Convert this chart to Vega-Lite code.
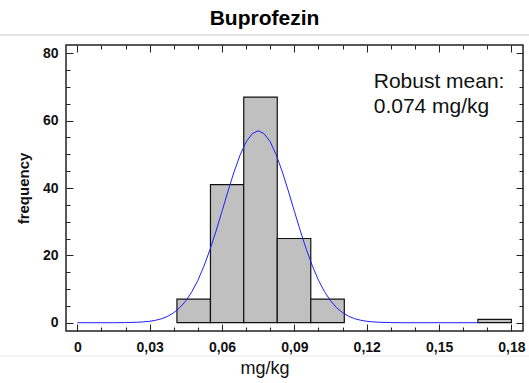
{
  "$schema": "https://vega.github.io/schema/vega-lite/v6.json",
  "width": 457,
  "height": 286,
  "autosize": {"type": "none"},
  "padding": {"left": 66, "top": 45, "right": 6, "bottom": 52},
  "config": {
    "view": {"stroke": "#222222", "strokeWidth": 1.5},
    "font": "Liberation Sans",
    "axis": {"grid": false, "domain": false, "tickColor": "#222222", "tickWidth": 1, "labelColor": "#111111", "titleColor": "#111111"}
  },
  "title": {"text": "Buprofezin", "font": "Liberation Sans", "fontSize": 21, "fontWeight": "bold", "color": "#000000", "anchor": "middle", "frame": "group", "dx": -30, "dy": 16, "baseline": "alphabetic", "offset": 4},
  "datasets": {
    "bars": [
      {"start": 0.0413, "end": 0.0552, "count": 7},
      {"start": 0.0552, "end": 0.0690, "count": 41},
      {"start": 0.0690, "end": 0.0829, "count": 67},
      {"start": 0.0829, "end": 0.0968, "count": 25},
      {"start": 0.0968, "end": 0.1107, "count": 7},
      {"start": 0.1661, "end": 0.1800, "count": 1}
    ],
    "curve": [
      {"x": 0, "f": 0}, {"x": 0.015, "f": 0}, {"x": 0.02, "f": 0.04}, {"x": 0.025, "f": 0.14},
      {"x": 0.0275, "f": 0.25}, {"x": 0.03, "f": 0.43}, {"x": 0.0325, "f": 0.73}, {"x": 0.035, "f": 1.2},
      {"x": 0.0375, "f": 1.92}, {"x": 0.04, "f": 2.97}, {"x": 0.0425, "f": 4.46}, {"x": 0.045, "f": 6.51},
      {"x": 0.0475, "f": 9.21}, {"x": 0.05, "f": 12.6}, {"x": 0.0525, "f": 16.8}, {"x": 0.055, "f": 21.7},
      {"x": 0.0575, "f": 27.2}, {"x": 0.06, "f": 33.1}, {"x": 0.0625, "f": 39.1}, {"x": 0.065, "f": 44.8},
      {"x": 0.0675, "f": 49.8}, {"x": 0.07, "f": 53.7}, {"x": 0.0725, "f": 56.1}, {"x": 0.075, "f": 57.0},
      {"x": 0.0775, "f": 56.1}, {"x": 0.08, "f": 53.7}, {"x": 0.0825, "f": 49.8}, {"x": 0.085, "f": 44.8},
      {"x": 0.0875, "f": 39.1}, {"x": 0.09, "f": 33.1}, {"x": 0.0925, "f": 27.2}, {"x": 0.095, "f": 21.7},
      {"x": 0.0975, "f": 16.8}, {"x": 0.1, "f": 12.6}, {"x": 0.1025, "f": 9.21}, {"x": 0.105, "f": 6.51},
      {"x": 0.1075, "f": 4.46}, {"x": 0.11, "f": 2.97}, {"x": 0.1125, "f": 1.92}, {"x": 0.115, "f": 1.2},
      {"x": 0.1175, "f": 0.73}, {"x": 0.12, "f": 0.43}, {"x": 0.1225, "f": 0.25}, {"x": 0.125, "f": 0.14},
      {"x": 0.13, "f": 0.04}, {"x": 0.135, "f": 0}, {"x": 0.1661, "f": 0}
    ],
    "note": [{"label": ["Robust mean:", "0.074 mg/kg"]}],
    "one": [{}]
  },
  "layer": [
    {
      "data": {"name": "bars"},
      "mark": {"type": "rect", "fill": "#c0c0c0", "stroke": "#111111", "strokeWidth": 1.2},
      "encoding": {
        "x": {"field": "start", "type": "quantitative", "scale": {"domain": [-0.0047, 0.1848], "nice": false, "zero": false},
          "axis": {"orient": "bottom", "values": [0, 0.03, 0.06, 0.09, 0.12, 0.15, 0.18], "ticks": false, "labelPadding": 9, "labelFontSize": 14, "labelFontWeight": "bold", "labelFlush": false, "labelOverlap": false,
            "labelExpr": "datum.value == 0 ? '0' : replace(format(datum.value, '.2f'), '.', ',')",
            "title": "mg/kg", "titleFontSize": 18, "titleFontWeight": "normal", "titleX": 198.5, "titleY": 42, "titleBaseline": "alphabetic"}},
        "x2": {"field": "end"},
        "y": {"field": "count", "type": "quantitative", "scale": {"domain": [-2.46, 82.46], "nice": false, "zero": false},
          "axis": {"orient": "left", "values": [0, 20, 40, 60, 80], "ticks": false, "labelPadding": 8, "labelFontSize": 14, "labelFontWeight": "bold",
            "title": "frequency", "titleFontSize": 15, "titleFontWeight": "bold", "titlePadding": 11}},
        "y2": {"datum": 0}
      }
    },
    {
      "data": {"name": "curve"},
      "mark": {"type": "line", "stroke": "#1f1fff", "strokeWidth": 1},
      "encoding": {
        "x": {"field": "x", "type": "quantitative", "scale": {"domain": [-0.0047, 0.1848], "nice": false, "zero": false},
          "axis": {"orient": "bottom", "values": [0, 0.03, 0.06, 0.09, 0.12, 0.15, 0.18], "labels": false, "tickSize": -7, "title": null}},
        "y": {"field": "f", "type": "quantitative", "scale": {"domain": [-2.46, 82.46], "nice": false, "zero": false},
          "axis": {"orient": "left", "values": [0, 20, 40, 60, 80], "labels": false, "tickSize": -7, "title": null}}
      }
    },
    {
      "data": {"name": "note"},
      "mark": {"type": "text", "align": "left", "baseline": "alphabetic", "fontSize": 21, "lineHeight": 25, "font": "Liberation Sans", "color": "#111111"},
      "encoding": {
        "text": {"field": "label"},
        "x": {"datum": 0.1229, "type": "quantitative", "scale": {"domain": [-0.0047, 0.1848], "nice": false, "zero": false},
          "axis": {"orient": "bottom", "values": [0.01, 0.02, 0.04, 0.05, 0.07, 0.08, 0.1, 0.11, 0.13, 0.14, 0.16, 0.17], "labels": false, "tickSize": -4, "title": null}},
        "y": {"datum": 69.6, "type": "quantitative", "scale": {"domain": [-2.46, 82.46], "nice": false, "zero": false},
          "axis": {"orient": "left", "values": [5, 10, 15, 25, 30, 35, 45, 50, 55, 65, 70, 75], "labels": false, "tickSize": -4, "title": null}}
      }
    },
    {
      "data": {"name": "one"},
      "mark": {"type": "rule", "stroke": "#c8c8c8", "strokeWidth": 1, "clip": false},
      "encoding": {
        "x": {"datum": -0.0321, "type": "quantitative", "scale": {"domain": [-0.0047, 0.1848], "nice": false, "zero": false},
          "axis": {"orient": "top", "values": [0, 0.03, 0.06, 0.09, 0.12, 0.15, 0.18], "labels": false, "tickSize": -7, "title": null}},
        "x2": {"datum": 0.1875},
        "y": {"datum": 85.43, "type": "quantitative", "scale": {"domain": [-2.46, 82.46], "nice": false, "zero": false},
          "axis": {"orient": "right", "values": [0, 20, 40, 60, 80], "labels": false, "tickSize": -7, "title": null}}
      }
    },
    {
      "data": {"name": "one"},
      "mark": {"type": "rule", "stroke": "#e8e8e8", "strokeWidth": 1, "clip": false},
      "encoding": {
        "x": {"datum": -0.0321, "type": "quantitative", "scale": {"domain": [-0.0047, 0.1848], "nice": false, "zero": false},
          "axis": {"orient": "top", "values": [0.01, 0.02, 0.04, 0.05, 0.07, 0.08, 0.1, 0.11, 0.13, 0.14, 0.16, 0.17], "labels": false, "tickSize": -4, "title": null}},
        "x2": {"datum": 0.1875},
        "y": {"datum": -9.89, "type": "quantitative", "scale": {"domain": [-2.46, 82.46], "nice": false, "zero": false},
          "axis": {"orient": "right", "values": [5, 10, 15, 25, 30, 35, 45, 50, 55, 65, 70, 75], "labels": false, "tickSize": -4, "title": null}}
      }
    }
  ],
  "resolve": {"axis": {"x": "independent", "y": "independent"}}
}
